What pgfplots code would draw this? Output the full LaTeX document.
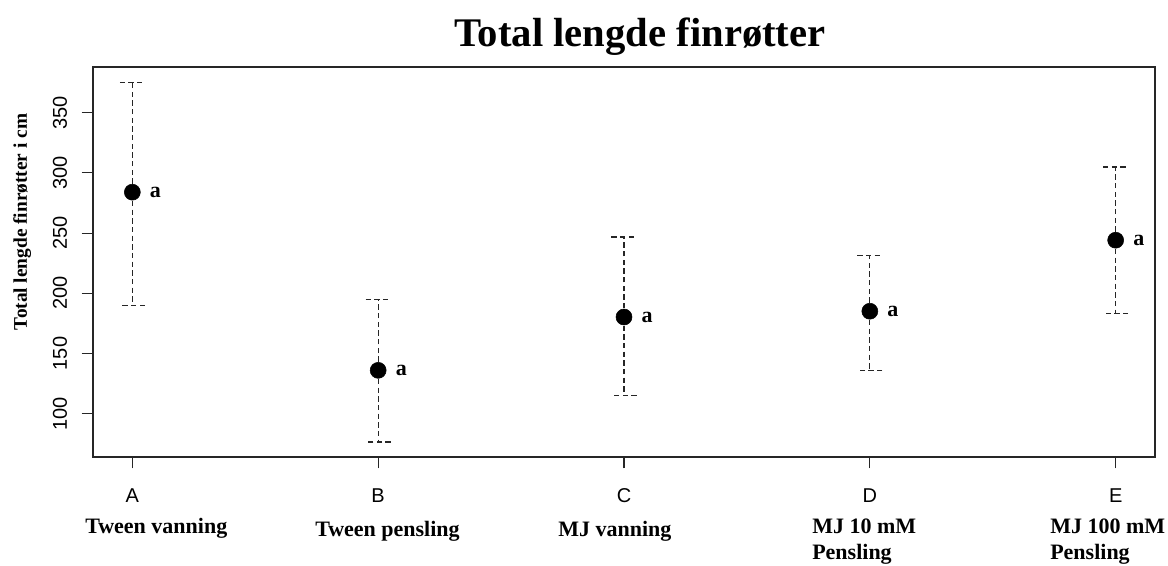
\documentclass[border=0pt]{standalone}
\usepackage{fontspec}
\setmainfont{Liberation Serif}
\setsansfont{Liberation Sans}
\usepackage{pgfplots}
\pgfplotsset{compat=1.18}
\pgfplotstableread{
x y yp ym
1 284.0 90.9 94.0
2 136.0 58.8 59.6
3 180.3 66.5 65.1
4 185.1 46.5 49.1
5 244.1 60.9 61.0
}\means
\begin{document}
\begin{tikzpicture}
\begin{axis}[
  scale only axis, width=796.5pt, height=292.5pt,
  xmin=0.84, xmax=5.16, ymin=64, ymax=388,
  axis line style={black!85, line width=0.8pt},
  xtick={1,2,3,4,5}, xticklabels={A,B,C,D,E},
  ytick={100,150,200,250,300,350},
  xtick pos=bottom, ytick pos=left,
  tick align=outside, major tick length=8.5pt,
  tick style={black!85, line width=0.8pt},
  /pgf/number format/assume math mode=true,
  xticklabel style={font=\sffamily\fontsize{15}{17}\selectfont, anchor=base},
  yticklabel style={font=\sffamily\fontsize{15}{17}\selectfont, rotate=90, anchor=south},
  xticklabel shift=25.3pt,
  yticklabel shift=7.5pt,
  clip=false,
]
\coordinate (sw) at (rel axis cs:0,0);
\addplot[
  only marks, mark=*, mark size=6pt, black,
  mark options={fill=black, solid},
  error bars/.cd, y dir=both, y explicit,
  error mark=|,
  error bar style={black!85, line width=0.9pt, dash pattern=on 4pt off 2.5pt},
  error mark options={black!85, line width=0.9pt, mark size=9.4pt, dash pattern=on 4pt off 2.5pt},
] table[x=x, y=y, y error plus=yp, y error minus=ym] {\means};
\addplot[
  only marks, mark=none,
  nodes near coords={a},
  every node near coord/.append style={anchor=west, inner sep=0pt, xshift=13pt, font=\bfseries\fontsize{16.5}{18}\selectfont, black},
] table[x=x, y=y] {\means};
\end{axis}
\pgfresetboundingbox
\path[use as bounding box] ([shift={(-69.75pt,-81pt)}]sw) rectangle ([shift={(806.25pt,342.75pt)}]sw);
\node[anchor=base, inner sep=0pt, font=\bfseries\fontsize{30.5}{34}\selectfont] at ([shift={(410.25pt,307.5pt)}]sw) {Total lengde finrøtter};
\node[anchor=base, rotate=90, inner sep=0pt, font=\bfseries\fontsize{14.5}{16}\selectfont] at ([shift={(-49.5pt,176.25pt)}]sw) {Total lengde finrøtter i cm};
\begin{scope}[every node/.style={anchor=base west, inner sep=0pt, font=\bfseries\fontsize{16.5}{18}\selectfont}]
\node at ([shift={(-6pt,-57pt)}]sw) {Tween vanning};
\node at ([shift={(166.5pt,-59.25pt)}]sw) {Tween pensling};
\node at ([shift={(348.75pt,-59.25pt)}]sw) {MJ vanning};
\node at ([shift={(539.25pt,-57pt)}]sw) {MJ 10 mM};
\node at ([shift={(539.25pt,-76.5pt)}]sw) {Pensling};
\node at ([shift={(717.75pt,-57pt)}]sw) {MJ 100 mM};
\node at ([shift={(717.75pt,-76.5pt)}]sw) {Pensling};
\end{scope}
\end{tikzpicture}
\end{document}
